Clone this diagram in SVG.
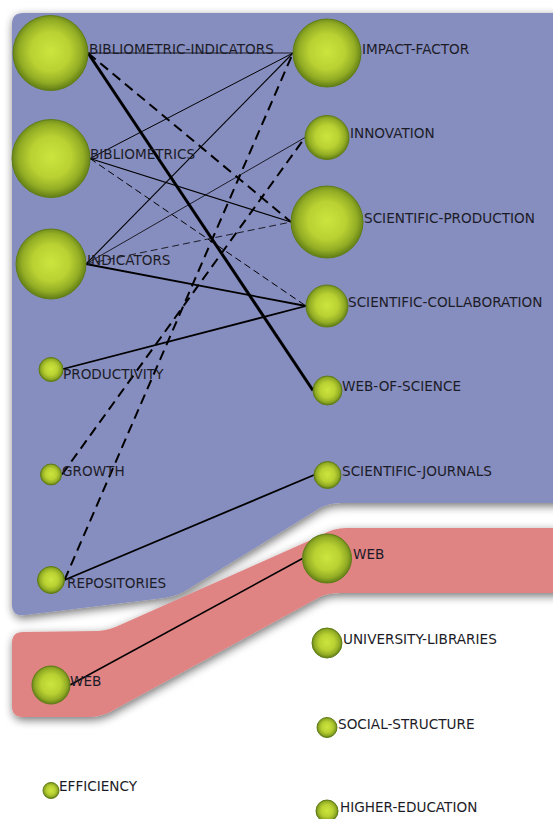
<svg xmlns="http://www.w3.org/2000/svg" width="553" height="819" viewBox="0 0 553 819">
<style>
.lbl{font-family:"DejaVu Sans","Liberation Sans",sans-serif;font-size:13.6px;fill:#1c1c28}
.e{fill:none;stroke:#000;stroke-linecap:butt}
.node{fill:url(#ball);stroke:#5f7d16;stroke-width:1}
</style>
<defs>
<radialGradient id="ball" cx="50%" cy="48%" r="52%">
<stop offset="0" stop-color="#cde53e"/>
<stop offset="0.5" stop-color="#bad232"/>
<stop offset="0.8" stop-color="#93ad25"/>
<stop offset="1" stop-color="#617d15"/>
</radialGradient>
<filter id="sh" x="-10%" y="-10%" width="130%" height="130%">
<feGaussianBlur in="SourceAlpha" stdDeviation="5"/>
<feOffset dx="1" dy="3" result="b"/>
<feComponentTransfer><feFuncA type="linear" slope="0.55"/></feComponentTransfer>
<feMerge><feMergeNode/><feMergeNode in="SourceGraphic"/></feMerge>
</filter>
</defs>
<rect width="553" height="819" fill="#ffffff"/>
<g id="regions">
<path id="cluster-blue" filter="url(#sh)" fill="#868dbf" d="M12,24 Q12,13 23,13 L580,13 L580,503 L340,503 Q326,503 315,511 L185,591 Q176,596 164,598 L25,615 Q12,617 12,604 Z"/>
<path id="cluster-red" filter="url(#sh)" fill="#e08383" d="M580,528 L346,528 Q333,528 322,535 L120,625 Q110,630 98,631 L23,632 Q12,632 12,643 L12,706 Q12,717 23,717 L88,717 Q100,717 110,712 L318,598 Q326,593 340,593 L580,593 Z"/>
</g>
<g id="connectors">
<line class="e" x1="88" y1="53" x2="293" y2="53" stroke-width="0.8"/>
<line class="e" x1="88" y1="53" x2="291" y2="222" stroke-width="2" stroke-dasharray="10,6"/>
<line class="e" x1="88" y1="53" x2="313" y2="390.5" stroke-width="3"/>
<line class="e" x1="90" y1="158.5" x2="293" y2="53" stroke-width="1"/>
<line class="e" x1="90" y1="158.5" x2="291" y2="222" stroke-width="1.3"/>
<line class="e" x1="90" y1="158.5" x2="306" y2="306" stroke-width="1" stroke-dasharray="7,4"/>
<line class="e" x1="86" y1="264" x2="293" y2="53" stroke-width="1.1"/>
<line class="e" x1="86" y1="264" x2="305" y2="137.5" stroke-width="0.8"/>
<line class="e" x1="86" y1="264" x2="291" y2="222" stroke-width="0.8" stroke-dasharray="7,4"/>
<line class="e" x1="86" y1="264" x2="306" y2="306" stroke-width="1.8"/>
<line class="e" x1="63" y1="369" x2="306" y2="306" stroke-width="1.8"/>
<line class="e" x1="62" y1="474.5" x2="305" y2="137.5" stroke-width="2" stroke-dasharray="10,6"/>
<line class="e" x1="64.5" y1="580" x2="293" y2="53" stroke-width="2" stroke-dasharray="10,6"/>
<line class="e" x1="64.5" y1="580" x2="314" y2="475" stroke-width="1.8"/>
<line class="e" x1="70" y1="685" x2="302.5" y2="558.5" stroke-width="1.5"/>
</g>
<g id="n-bibliometric-indicators"><circle class="node" cx="50.5" cy="53" r="37.5"/><text class="lbl" x="89" y="53.5">BIBLIOMETRIC-INDICATORS</text></g>
<g id="n-bibliometrics"><circle class="node" cx="51" cy="158.5" r="39"/><text class="lbl" x="90" y="159">BIBLIOMETRICS</text></g>
<g id="n-indicators"><circle class="node" cx="51" cy="264" r="35"/><text class="lbl" x="87" y="264.5">INDICATORS</text></g>
<g id="n-productivity"><circle class="node" cx="51" cy="369.5" r="12"/><text class="lbl" x="63" y="379">PRODUCTIVITY</text></g>
<g id="n-growth"><circle class="node" cx="51" cy="474.5" r="10.5"/><text class="lbl" x="62" y="476">GROWTH</text></g>
<g id="n-repositories"><circle class="node" cx="51" cy="580" r="13.5"/><text class="lbl" x="67" y="588">REPOSITORIES</text></g>
<g id="n-web-left"><circle class="node" cx="51" cy="685" r="19"/><text class="lbl" x="70" y="686">WEB</text></g>
<g id="n-efficiency"><circle class="node" cx="51" cy="790.5" r="8"/><text class="lbl" x="59" y="791">EFFICIENCY</text></g>
<g id="n-impact-factor"><circle class="node" cx="327" cy="53" r="34"/><text class="lbl" x="362" y="54">IMPACT-FACTOR</text></g>
<g id="n-innovation"><circle class="node" cx="327" cy="137.5" r="22"/><text class="lbl" x="350" y="138">INNOVATION</text></g>
<g id="n-scientific-production"><circle class="node" cx="327" cy="222" r="36"/><text class="lbl" x="364" y="222.5">SCIENTIFIC-PRODUCTION</text></g>
<g id="n-scientific-collaboration"><circle class="node" cx="327" cy="306" r="21"/><text class="lbl" x="348" y="306.5">SCIENTIFIC-COLLABORATION</text></g>
<g id="n-web-of-science"><circle class="node" cx="327.5" cy="390.5" r="14.5"/><text class="lbl" x="342" y="391">WEB-OF-SCIENCE</text></g>
<g id="n-scientific-journals"><circle class="node" cx="327.5" cy="475" r="13.5"/><text class="lbl" x="342" y="475.5">SCIENTIFIC-JOURNALS</text></g>
<g id="n-web-right"><circle class="node" cx="327" cy="558.5" r="24.5"/><text class="lbl" x="353" y="559">WEB</text></g>
<g id="n-university-libraries"><circle class="node" cx="327" cy="643" r="15"/><text class="lbl" x="343" y="643.5">UNIVERSITY-LIBRARIES</text></g>
<g id="n-social-structure"><circle class="node" cx="327" cy="727.5" r="10"/><text class="lbl" x="338" y="728.5">SOCIAL-STRUCTURE</text></g>
<g id="n-higher-education"><circle class="node" cx="327" cy="811" r="11"/><text class="lbl" x="340" y="812">HIGHER-EDUCATION</text></g>
</svg>
